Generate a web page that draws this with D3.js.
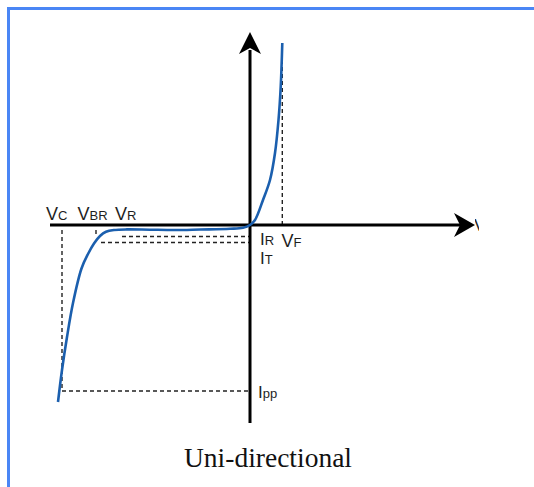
<!DOCTYPE html>
<html>
<head>
<meta charset="utf-8">
<script src="https://cdn.jsdelivr.net/npm/d3@7"></script>
<style>
  html, body { margin: 0; padding: 0; background: #fff; }
  svg { display: block; }
</style>
</head>
<body>
<svg id="chart" width="534" height="487"></svg>
<script>
// ---- data (voltage V, current I in arbitrary units) ----
const reverseCurve = [
  [-19.2, -17.7], [-18.8, -14.5], [-18.3, -11.2], [-17.7, -7.8], [-16.85, -4.35],
  [-16.2, -2.9], [-15.6, -1.85], [-15.0, -1.1], [-14.4, -0.68], [-13.6, -0.5],
  [-12.3, -0.44], [-10.0, -0.47], [-7.5, -0.5], [-5.0, -0.45], [-2.0, -0.38],
  [-0.7, -0.28], [0, 0]
];
const forwardCurve = [
  [0, 0], [0.5, 0.5], [1.3, 2.5], [2.0, 4.5], [2.5, 7.2], [2.85, 10.5], [3.07, 13.8], [3.23, 18.2]
];
// key levels
const levelNames = ["Vc", "VBR", "VF", "IR", "IT", "Ipp"];
const levelValues = [-18.8, -15.4, 3.23, -1.15, -1.75, -16.6];
const level = Object.fromEntries(levelNames.map((k, i) => [k, levelValues[i]]));
const vcTop = -0.5, vfTop = 18.2, irStart = -12.8, itStart = -14.9, vbrTop = -0.5;
const titleText = "Uni-directional";

// ---- scales ----
const svg = d3.select("#chart");
const x = d3.scaleLinear().domain([-20, 22.5]).range([50, 475]);
const y = d3.scaleLinear().domain([-20, 20]).range([425, 25]);

// frame border (top & left)
svg.append("path")
  .attr("d", "M8.5,487 L8.5,8.5 L534,8.5")
  .attr("fill", "none").attr("stroke", "#4a86f5").attr("stroke-width", 3);

// dashed guide lines
const dashes = [
  [[level.VF, 0], [level.VF, vfTop]],
  [[level.Vc, vcTop], [level.Vc, level.Ipp]],
  [[level.Vc, level.Ipp], [0, level.Ipp]],
  [[level.VBR, vbrTop], [level.VBR, level.IR]],
  [[irStart, level.IR], [0, level.IR]],
  [[itStart, level.IT], [0, level.IT]]
];
const lineGen = d3.line().x(d => x(d[0])).y(d => y(d[1]));
svg.append("g").selectAll("path").data(dashes).join("path")
  .attr("d", d => lineGen(d))
  .attr("fill", "none").attr("stroke", "#222").attr("stroke-width", 1.4)
  .attr("stroke-dasharray", "4,3");

// axes
const ax = svg.append("g").attr("stroke", "#000").attr("fill", "#000");
ax.append("line").attr("x1", x(-20)).attr("x2", x(21)).attr("y1", y(0)).attr("y2", y(0))
  .attr("stroke-width", 3);
ax.append("line").attr("x1", x(0)).attr("x2", x(0)).attr("y1", y(-19.8)).attr("y2", y(17.5))
  .attr("stroke-width", 3);
// arrowheads
const tipY = y(19.3), tipX = x(22.5);
ax.append("path").attr("stroke", "none")
  .attr("d", `M${x(0)},${tipY} L${x(0) + 11},${tipY + 22} L${x(0)},${tipY + 16} L${x(0) - 11},${tipY + 22} Z`);
ax.append("path").attr("stroke", "none")
  .attr("d", `M${tipX},${y(0)} L${tipX - 21},${y(0) + 12} L${tipX - 15},${y(0)} L${tipX - 21},${y(0) - 12} Z`);

// partially hidden axis label
svg.append("clipPath").attr("id", "vclip").append("rect")
  .attr("x", tipX).attr("y", 200).attr("width", 4).attr("height", 40);
svg.append("text").attr("x", tipX - 1).attr("y", y(0) + 6)
  .attr("clip-path", "url(#vclip)")
  .attr("font-family", "Liberation Sans, Arial, sans-serif").attr("font-size", 17)
  .attr("fill", "#222").text("V");

// curve
const curveGen = d3.line().x(d => x(d[0])).y(d => y(d[1])).curve(d3.curveCatmullRom.alpha(0.5));
svg.append("path").datum(reverseCurve.concat(forwardCurve.slice(1)))
  .attr("d", curveGen)
  .attr("fill", "none").attr("stroke", "#1b5fae").attr("stroke-width", 2.6)
  .attr("stroke-linejoin", "round");

// labels
const labels = [
  { main: "V", sub: "C", x: 46, y: 220, s: 18 },
  { main: "V", sub: "BR", x: 77.5, y: 220, s: 18 },
  { main: "V", sub: "R", x: 115, y: 220, s: 18 },
  { main: "I", sub: "R", x: 260, y: 245, s: 17 },
  { main: "V", sub: "F", x: 281.5, y: 247, s: 18 },
  { main: "I", sub: "T", x: 260, y: 264, s: 17 },
  { main: "I", sub: "pp", x: 258, y: 398, s: 17 }
];
const lt = svg.append("g").attr("font-family", "Liberation Sans, Arial, sans-serif").attr("fill", "#1e1e1e");
labels.forEach(l => {
  const t = lt.append("text").attr("x", l.x).attr("y", l.y);
  t.append("tspan").attr("font-size", l.s).text(l.main);
  t.append("tspan").attr("font-size", 13).text(l.sub);
});

// title
svg.append("text").attr("x", 268).attr("y", 467).attr("text-anchor", "middle")
  .attr("font-family", "Liberation Serif, Times New Roman, serif").attr("font-size", 27.5)
  .attr("fill", "#111").text(titleText);
</script>
</body>
</html>
